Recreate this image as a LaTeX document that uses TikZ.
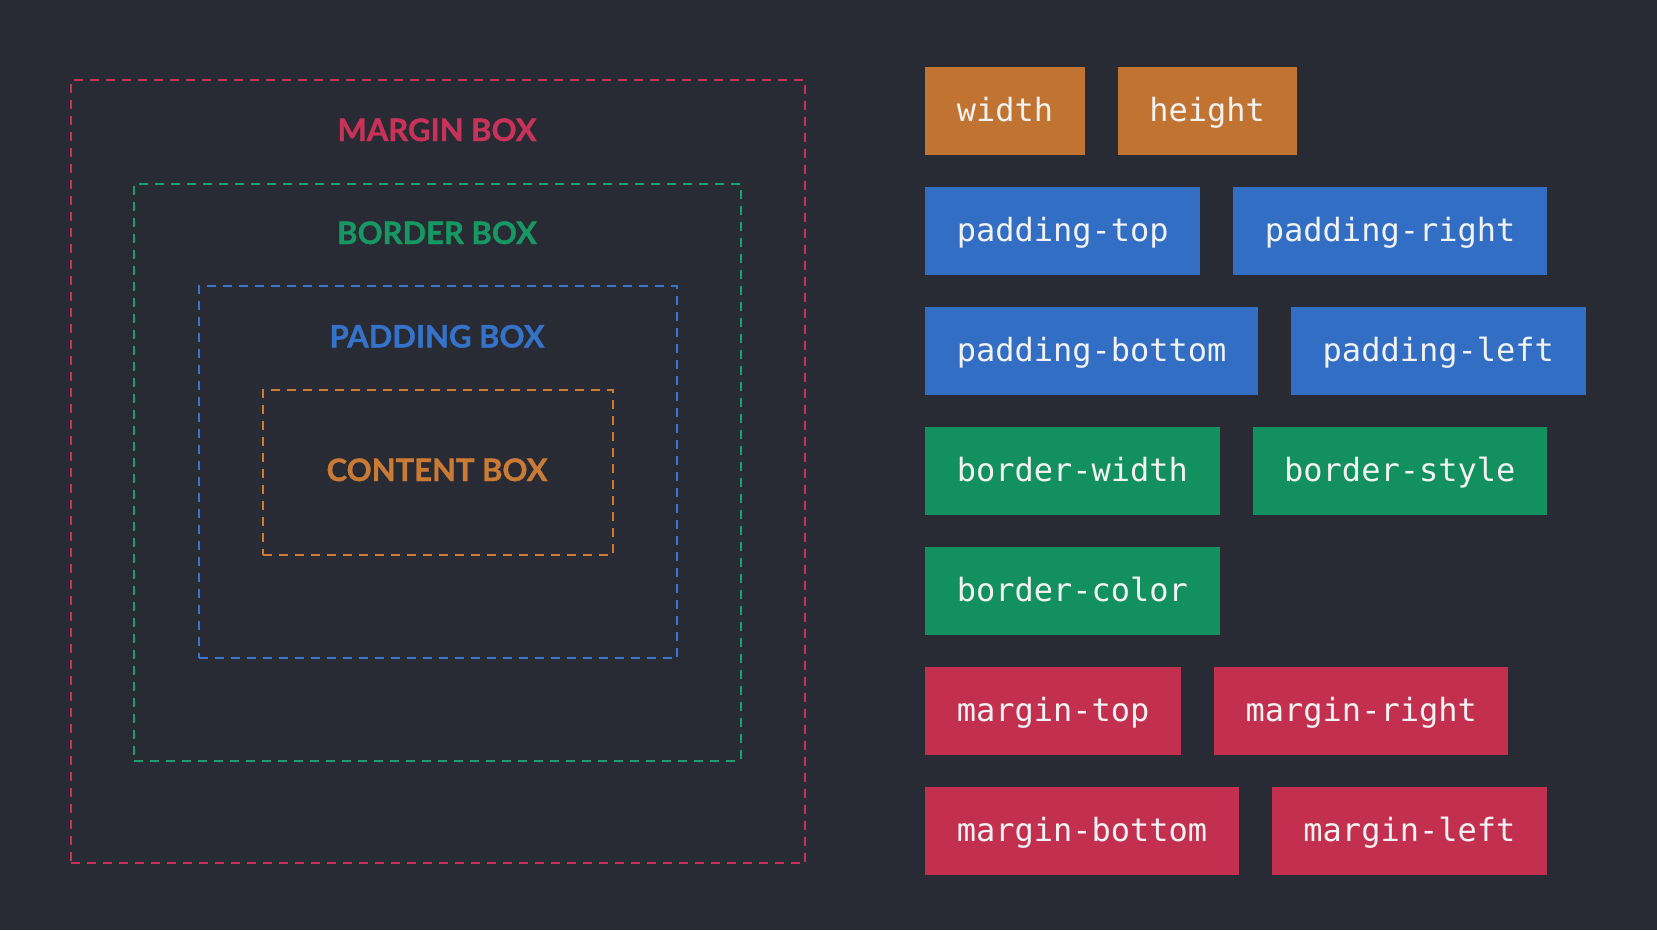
\documentclass[tikz,border=0pt]{standalone}
\usepackage{fontspec}
\setmainfont{Lato}
\newfontfamily\labf{Lato}[BoldFeatures={FakeBold=1.2}]
\newfontfamily\monof{DejaVu Sans Mono}
\usetikzlibrary{positioning}
\definecolor{bgc}{HTML}{292B34}
\definecolor{mred}{HTML}{C3304F}
\definecolor{bgreen}{HTML}{12905F}
\definecolor{pblue}{HTML}{316EC4}
\definecolor{corange}{HTML}{C17331}
\definecolor{mline}{HTML}{C8325A}
\definecolor{bline}{HTML}{18A070}
\definecolor{pline}{HTML}{3B74CB}
\definecolor{cline}{HTML}{CC7B33}
\definecolor{mtext}{HTML}{C83258}
\definecolor{btext}{HTML}{169862}
\definecolor{ptext}{HTML}{3572C9}
\definecolor{ctext}{HTML}{C97A35}
\definecolor{pilltext}{HTML}{F2F2F2}
\tikzset{
  dbox/.style={draw, line width=2pt, dash pattern=on 9pt off 7pt, anchor=north west, inner sep=0pt},
  lbl/.style={anchor=base, font=\labf\bfseries\fontsize{31}{36}\selectfont},
  pill/.style={anchor=north west, minimum height=87.7pt, inner xsep=31.6pt, inner ysep=0pt,
    text height=24pt, text depth=2.6pt, font=\monof\fontsize{32}{38}\selectfont, text=pilltext},
  gap/.style={right=32.6pt of #1}
}
\begin{document}
\begin{tikzpicture}[x=1pt,y=-1pt]
\fill[bgc] (0,0) rectangle (1657,930);
\useasboundingbox (0,0) rectangle (1657,930);
% nested boxes
\node[dbox, draw=mline, minimum width=734.5pt, minimum height=783pt] (marginbox) at (69.7,79.3) {};
\node[dbox, draw=bline, minimum width=606.6pt, minimum height=577pt] (borderbox) at (133.2,182.8) {};
\node[dbox, draw=pline, minimum width=478.8pt, minimum height=372pt] (paddingbox) at (197.6,285.3) {};
\node[dbox, draw=cline, minimum width=349.8pt, minimum height=165pt] (contentbox) at (262.1,388.9) {};
% labels
\node[lbl, text=mtext] (mlabel) at (437,141) {MARGIN BOX};
\node[lbl, text=btext] (blabel) at (437,244) {BORDER BOX};
\node[lbl, text=ptext] (plabel) at (437,347.5) {PADDING BOX};
\node[lbl, text=ctext] (clabel) at (437,481) {CONTENT BOX};
% pills
\node[pill, fill=corange] (pwidth) at (925,67) {width};
\node[pill, fill=corange, gap=pwidth] (pheight) {height};
\node[pill, fill=pblue] (ptop) at (925,187) {padding-top};
\node[pill, fill=pblue, gap=ptop] (pright) {padding-right};
\node[pill, fill=pblue] (pbottom) at (925,307) {padding-bottom};
\node[pill, fill=pblue, gap=pbottom] (pleft) {padding-left};
\node[pill, fill=bgreen] (bwidth) at (925,427) {border-width};
\node[pill, fill=bgreen, gap=bwidth] (bstyle) {border-style};
\node[pill, fill=bgreen] (bcolor) at (925,547) {border-color};
\node[pill, fill=mred] (mtop) at (925,667) {margin-top};
\node[pill, fill=mred, gap=mtop] (mright) {margin-right};
\node[pill, fill=mred] (mbottom) at (925,787) {margin-bottom};
\node[pill, fill=mred, gap=mbottom] (mleft) {margin-left};
\end{tikzpicture}
\end{document}
